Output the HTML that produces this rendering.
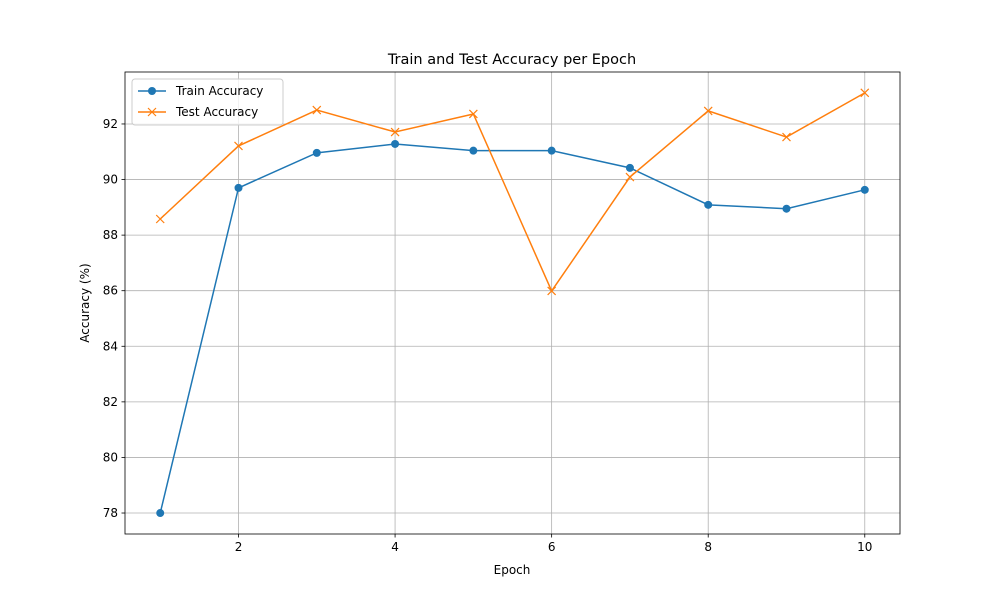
<!DOCTYPE html>
<html><head><meta charset="utf-8"><style>
body{margin:0;background:#fff;}
svg{display:block;font-family:"DejaVu Sans","Liberation Sans",sans-serif;}
</style></head><body>
<svg id="chart" width="1000" height="600"></svg>
<script>
const epochs=[1,2,3,4,5,6,7,8,9,10];
const trainAcc=[78.0,89.70,90.96,91.28,91.04,91.04,90.42,89.09,88.95,89.63];
const testAcc=[88.58,91.21,92.50,91.71,92.36,85.99,90.09,92.47,91.53,93.12];
const xTicks=[2,4,6,8,10];
const yTicks=[78,80,82,84,86,88,90,92];
const L=125,R=900,T=72,B=534;
const xMin=0.55,xMax=10.45,yMin=77.245,yMax=93.87;
const sx=v=>L+(v-xMin)/(xMax-xMin)*(R-L);
const sy=v=>B-(v-yMin)/(yMax-yMin)*(B-T);
const svg=document.getElementById('chart');
const NS='http://www.w3.org/2000/svg';
function mk(tag,attrs,parent){const e=document.createElementNS(NS,tag);for(const k in attrs)e.setAttribute(k,attrs[k]);(parent||svg).appendChild(e);return e;}
const grid=mk('g',{});


xTicks.forEach(t=>{const x=sx(t);
mk('line',{x1:x,x2:x,y1:T,y2:B,stroke:'#b0b0b0','stroke-width':0.8},grid);
mk('line',{x1:x,x2:x,y1:B,y2:B+3.5,stroke:'#000','stroke-width':0.8});
const tx=mk('text',{x:x,y:B+17,'text-anchor':'middle','font-size':12});tx.textContent=t;

});
yTicks.forEach(t=>{const y=sy(t);
mk('line',{x1:L,x2:R,y1:y,y2:y,stroke:'#b0b0b0','stroke-width':0.8},grid);
mk('line',{x1:L-3.5,x2:L,y1:y,y2:y,stroke:'#000','stroke-width':0.8});
const tx=mk('text',{x:L-7,y:y+4,'text-anchor':'end','font-size':12});tx.textContent=t;

});
function series(vals,color,marker,name){
const g=mk('g',{});


mk('polyline',{points:vals.map((v,i)=>sx(epochs[i])+','+sy(v)).join(' '),fill:'none',stroke:color,'stroke-width':1.5},g);
vals.forEach((v,i)=>{const x=sx(epochs[i]),y=sy(v);
if(marker==='o'){const c=mk('circle',{cx:x,cy:y,r:4,fill:color},g);}
else{const p=mk('path',{d:`M${x-4},${y-4}L${x+4},${y+4}M${x-4},${y+4}L${x+4},${y-4}`,stroke:color,'stroke-width':1.2},g);}});
}
series(trainAcc,'#1f77b4','o','train-series');
series(testAcc,'#ff7f0e','x','test-series');
mk('rect',{x:L,y:T,width:R-L,height:B-T,fill:'none',stroke:'#000','stroke-width':0.8});
let t=mk('text',{x:512,y:64,'text-anchor':'middle','font-size':14.5});t.textContent='Train and Test Accuracy per Epoch';

t=mk('text',{x:512,y:574,'text-anchor':'middle','font-size':12});t.textContent='Epoch';

t=mk('text',{x:0,y:0,'text-anchor':'middle','font-size':12,transform:'translate(89,303) rotate(-90)'});t.textContent='Accuracy (%)';

const lg=mk('g',{});

mk('rect',{x:132,y:79,width:151,height:46,rx:3,fill:'#fff','fill-opacity':0.8,stroke:'#ccc'},lg);
mk('line',{x1:138,x2:166,y1:91,y2:91,stroke:'#1f77b4','stroke-width':1.5},lg);
mk('circle',{cx:152,cy:91,r:4,fill:'#1f77b4'},lg);
t=mk('text',{x:176,y:95,'font-size':12},lg);t.textContent='Train Accuracy';

mk('line',{x1:138,x2:166,y1:112,y2:112,stroke:'#ff7f0e','stroke-width':1.5},lg);
mk('path',{d:'M148,108L156,116M148,116L156,108',stroke:'#ff7f0e','stroke-width':1.2},lg);
t=mk('text',{x:176,y:116,'font-size':12},lg);t.textContent='Test Accuracy';

</script>
</body></html>
